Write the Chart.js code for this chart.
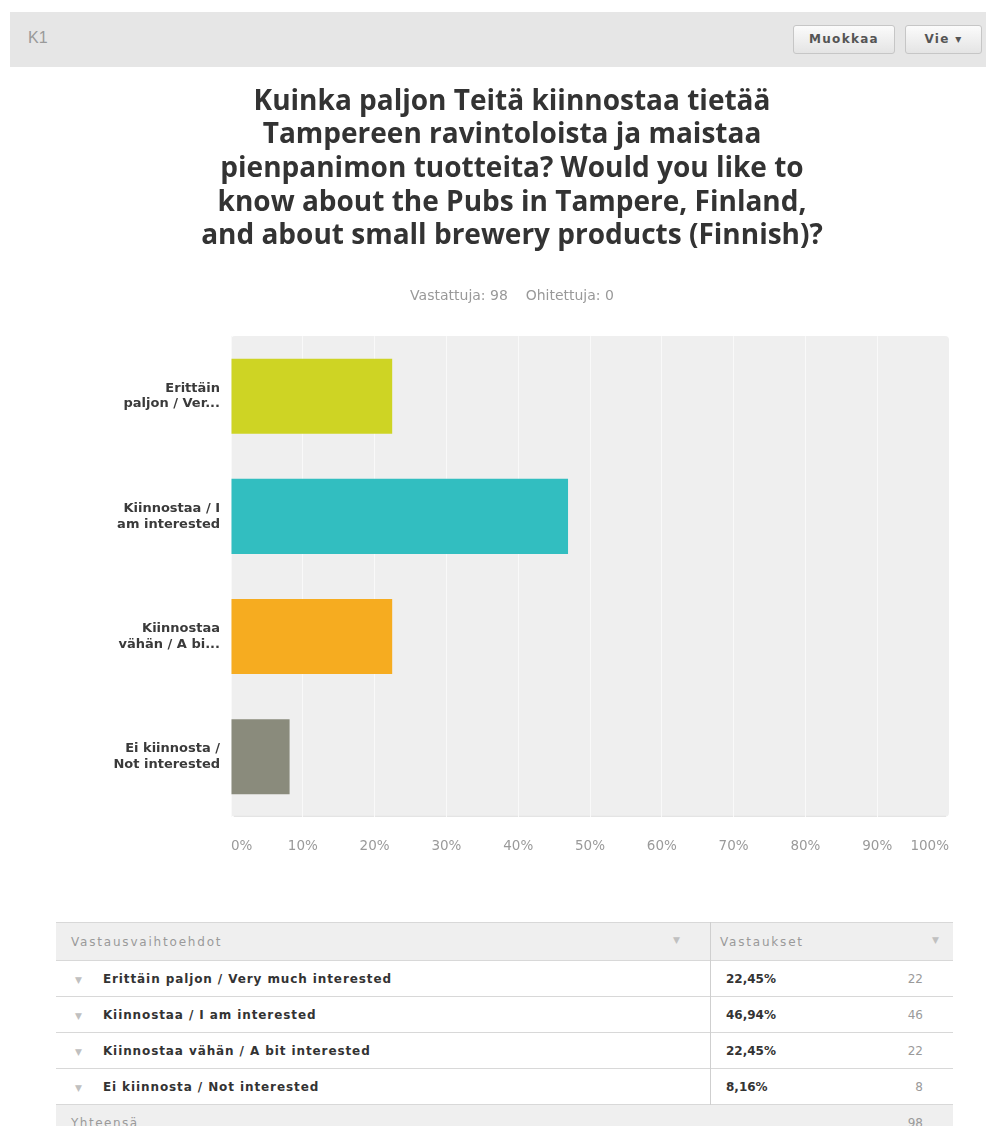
<!DOCTYPE html>
<html lang="fi">
<head>
    <meta charset="UTF-8">
    <title>K1</title>
    <script src="https://cdn.jsdelivr.net/npm/chart.js"></script>
    <style>
        body {
            margin: 0;
            background: #fff;
            font-family: "DejaVu Sans", Verdana, sans-serif;
            width: 986px;
            height: 1126px;
            position: relative;
            overflow: hidden;
        }
        .topbar {
            position: absolute;
            left: 10px;
            top: 12px;
            width: 976px;
            height: 55px;
            background: #e6e6e6;
        }
        .topbar .qid {
            position: absolute;
            left: 18px;
            top: 17px;
            font-family: "Liberation Sans", Arial, sans-serif;
            font-size: 16px;
            color: #9a9a9a;
        }
        .btn {
            position: absolute;
            top: 13px;
            height: 27px;
            border: 1px solid #c6c6c6;
            border-radius: 3px;
            background: linear-gradient(#fbfbfb, #e4e4e4);
            font-size: 12px;
            font-weight: bold;
            letter-spacing: 1.3px;
            color: #555;
            line-height: 27px;
            text-align: center;
        }
        .chart-box {
            position: absolute;
            left: 75px;
            top: 70px;
            width: 874px;
            height: 823px;
        }
        table.results {
            position: absolute;
            left: 56px;
            top: 922px;
            width: 897px;
            border-collapse: collapse;
            font-size: 12px;
        }
        table.results td, table.results th {
            border-top: 1px solid #d8d8d8;
            padding: 0;
            height: 35px;
        }
        table.results th {
            background: #efefef;
            color: #9a9a9a;
            font-weight: normal;
            text-align: left;
            height: 37px;
            letter-spacing: 1.8px;
        }
        table.results .c1 { width: 654px; border-right: 1px solid #cfcfcf; }
        table.results .arrow { color: #c0c0c0; font-size: 9px; letter-spacing: 0; }
        table.results .lbl { font-weight: bold; color: #333; letter-spacing: 0.9px; }
        table.results .pct { font-weight: bold; color: #333; }
        table.results .cnt { color: #9a9a9a; float: right; margin-right: 30px; }
        table.results tfoot td { background: #efefef; color: #9a9a9a; border-right: none; }
    </style>
</head>
<body>
    <div class="topbar">
        <span class="qid">K1</span>
        <div class="btn" style="left:783px;width:100px;">Muokkaa</div>
        <div class="btn" style="left:895px;width:75px;">Vie &#9662;</div>
    </div>

    <div class="chart-box">
        <canvas id="chart"></canvas>
    </div>

    <table class="results" id="results"></table>

    <script>
        const categories = [
            ["Erittäin", "paljon / Ver..."],
            ["Kiinnostaa / I", "am interested"],
            ["Kiinnostaa", "vähän / A bi..."],
            ["Ei kiinnosta /", "Not interested"]
        ];
        const answerLabels = [
            "Erittäin paljon / Very much interested",
            "Kiinnostaa / I am interested",
            "Kiinnostaa vähän / A bit interested",
            "Ei kiinnosta / Not interested"
        ];
        const percentages = [22.45, 46.94, 22.45, 8.16];
        const counts = [22, 46, 22, 8];
        const tickValues = [0, 10, 20, 30, 40, 50, 60, 70, 80, 90, 100];
        const titleLines = [
            "Kuinka paljon Teitä kiinnostaa tietää",
            "Tampereen ravintoloista ja maistaa",
            "pienpanimon tuotteita? Would you like to",
            "know about the Pubs in Tampere, Finland,",
            "and about small brewery products (Finnish)?"
        ];
        const answered = 98;
        const skipped = 0;

        const barColors = ['#ced424', '#32bec0', '#f6ac20', '#8a8b7c'];

        // Grey rounded plot background
        const plotBg = {
            id: 'plotBg',
            beforeDraw(chart) {
                const { ctx, chartArea: a } = chart;
                ctx.save();
                ctx.fillStyle = '#efefef';
                ctx.beginPath();
                ctx.roundRect(a.left, a.top, a.width, a.height, 4);
                ctx.fill();
                ctx.fillStyle = '#e2e2e2';
                ctx.fillRect(a.left + 3, a.bottom - 1, a.width - 6, 1);
                ctx.restore();
            }
        };

        new Chart(document.getElementById('chart'), {
            type: 'bar',
            data: {
                labels: categories,
                datasets: [{
                    data: percentages,
                    backgroundColor: barColors,
                    barPercentage: 0.625,
                    categoryPercentage: 1
                }]
            },
            options: {
                indexAxis: 'y',
                responsive: true,
                maintainAspectRatio: false,
                animation: false,
                layout: { padding: { bottom: 16 } },
                plugins: {
                    legend: { display: false },
                    tooltip: { enabled: false },
                    title: {
                        display: true,
                        text: titleLines,
                        color: '#333',
                        font: { family: '"Open Sans", sans-serif', size: 28, weight: '700', lineHeight: 1.2 },
                        padding: { top: 15, bottom: 35 }
                    },
                    subtitle: {
                        display: true,
                        text: 'Vastattuja: ' + answered + '    Ohitettuja: ' + skipped,
                        color: '#999',
                        font: { family: '"DejaVu Sans", sans-serif', size: 14, lineHeight: 1.15 },
                        padding: { top: 0, bottom: 32 }
                    }
                },
                scales: {
                    x: {
                        min: tickValues[0],
                        max: tickValues[tickValues.length - 1],
                        afterBuildTicks: (scale) => {
                            scale.ticks = tickValues.map(v => ({ value: v }));
                        },
                        afterFit: (scale) => {
                            scale.paddingLeft = 0;
                            scale.paddingRight = 0;
                        },
                        border: { display: false },
                        grid: { color: '#f9f9f9', drawTicks: false },
                        ticks: {
                            align: 'inner',
                            padding: 22,
                            maxRotation: 0,
                            autoSkip: false,
                            color: '#9a9a9a',
                            font: { family: '"DejaVu Sans", sans-serif', size: 13.5 },
                            callback: (v) => v + '%'
                        }
                    },
                    y: {
                        afterFit: (scale) => { scale.width = 156; },
                        border: { display: false },
                        grid: { display: false, drawTicks: false },
                        ticks: {
                            padding: 11,
                            color: '#3a3a3a',
                            font: { family: '"DejaVu Sans", sans-serif', size: 13, weight: 'bold', lineHeight: 1.2 }
                        }
                    }
                }
            },
            plugins: [plotBg]
        });

        // Results table under the chart
        const table = document.getElementById('results');
        let html = '<thead><tr><th class="c1"><span style="margin-left:15px">Vastausvaihtoehdot</span>' +
            '<span class="arrow" style="float:right;margin-right:30px">&#9660;</span></th>' +
            '<th><span style="margin-left:9px">Vastaukset</span>' +
            '<span class="arrow" style="float:right;margin-right:14px">&#9660;</span></th></tr></thead><tbody>';
        answerLabels.forEach((label, i) => {
            html += '<tr><td class="c1"><span class="arrow" style="margin-left:19px;margin-right:21px">&#9660;</span>' +
                '<span class="lbl">' + label + '</span></td>' +
                '<td><span class="pct" style="margin-left:15px">' + percentages[i].toFixed(2).replace('.', ',') + '%</span>' +
                '<span class="cnt">' + counts[i] + '</span></td></tr>';
        });
        const total = counts.reduce((a, b) => a + b, 0);
        html += '</tbody><tfoot><tr><td class="c1" style="border-right:none"><span style="margin-left:15px;letter-spacing:1.5px">Yhteensä</span></td>' +
            '<td><span class="cnt">' + total + '</span></td></tr></tfoot>';
        table.innerHTML = html;
    </script>
</body>
</html>
